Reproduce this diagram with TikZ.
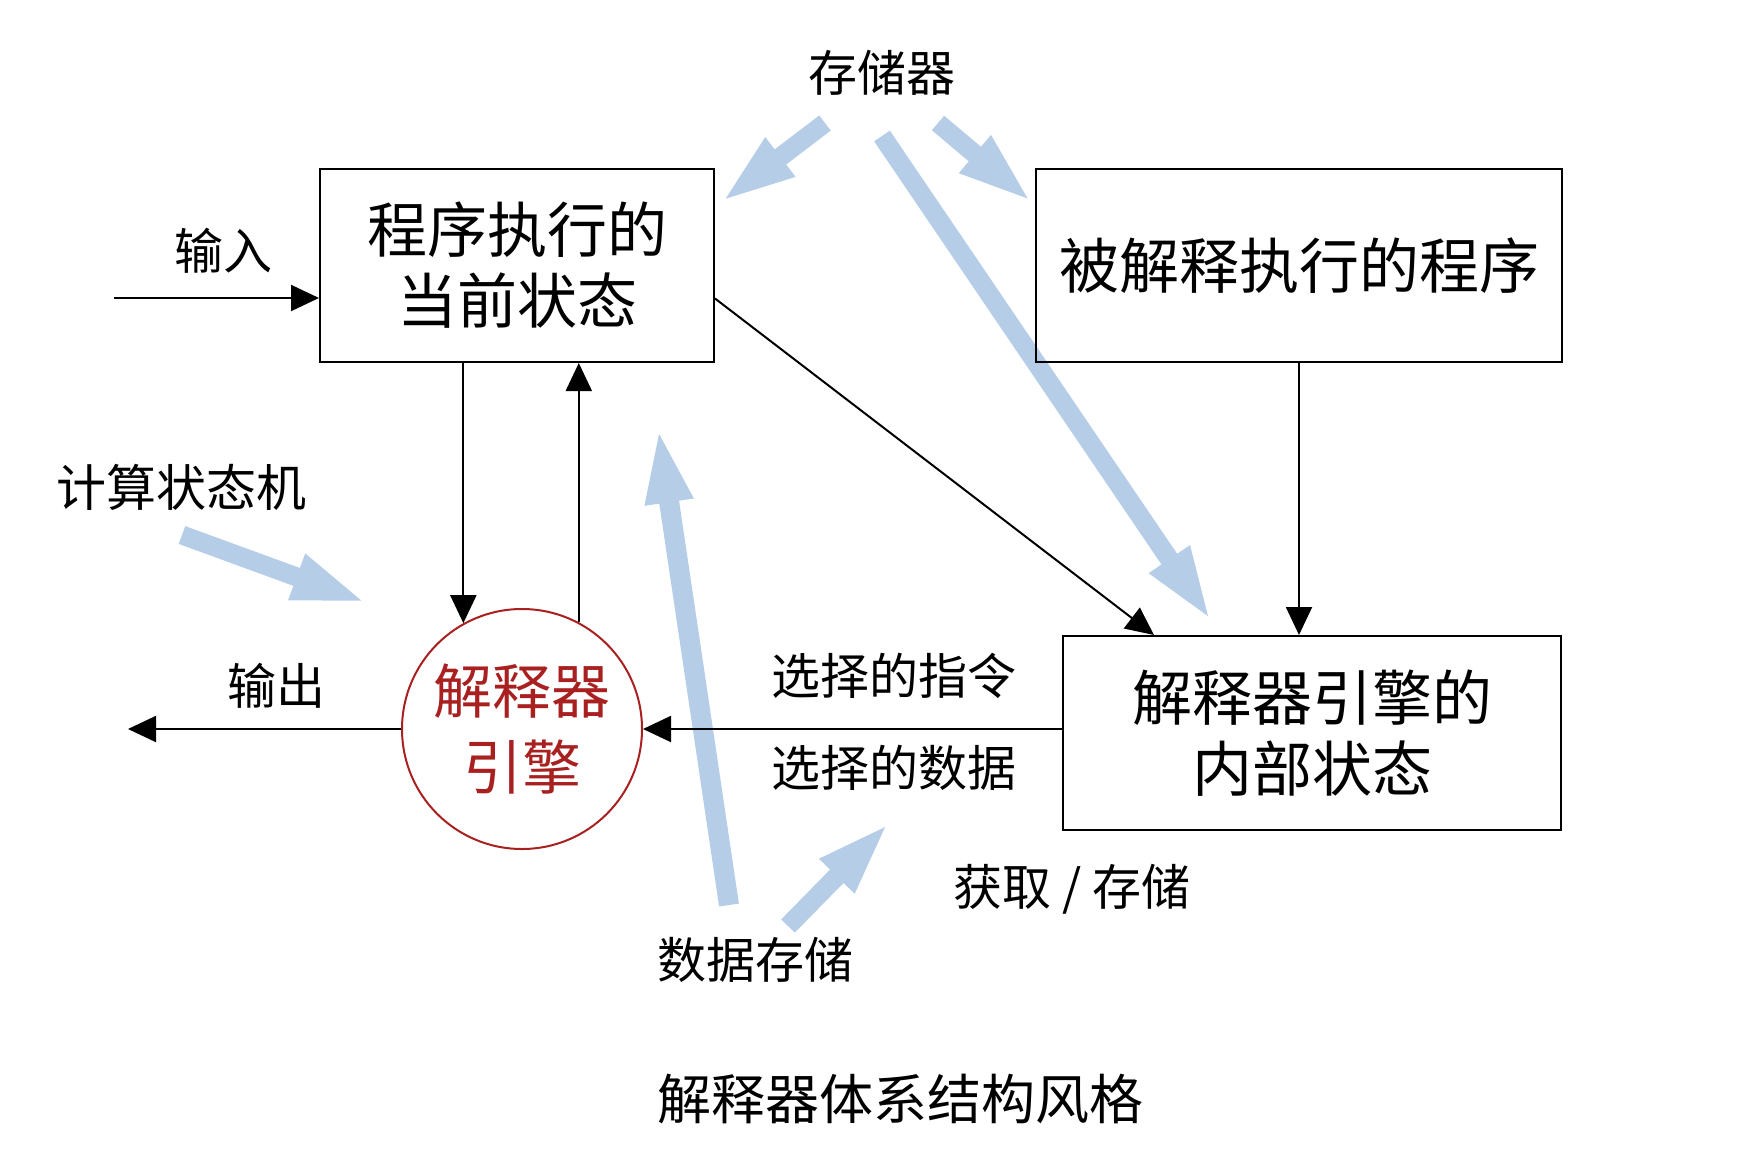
\documentclass[tikz,border=0pt]{standalone}
\usepackage{fontspec}
\setmainfont{Noto Sans CJK SC}
\usetikzlibrary{arrows.meta,calc,backgrounds}
\definecolor{blu}{RGB}{182,205,232}
\definecolor{engred}{RGB}{168,32,32}
\tikzset{
  boxnode/.style={draw=black,line width=1pt,align=center,inner sep=0pt,
    font=\fontsize{30}{35.5}\selectfont},
  lbl/.style={inner sep=0pt,font=\fontsize{24.5}{29}\selectfont},
  arr/.style={line width=1pt,-{Triangle[length=14pt,width=13pt]}},
  fat/.style={draw=blu,line width=9.5pt,-{Triangle[length=38pt,width=21.5pt]}},
}
\begin{document}
\begin{tikzpicture}[x=0.5pt,y=-0.5pt]
\useasboundingbox (0,0) rectangle (1746,1162);
% boxes
\node[boxnode,minimum width=197pt,minimum height=96.5pt] (b1) at (517,265.5) {程序执行的\\当前状态};
\node[boxnode,minimum width=263pt,minimum height=96.5pt] (b2) at (1299,265.5) {被解释执行的程序};
\node[boxnode,minimum width=249pt,minimum height=97pt] (b3) at (1312,733) {解释器引擎的\\内部状态};
\node[circle,draw=engred,line width=1pt,minimum size=120pt,inner sep=0pt,align=center,
  text=engred,font=\fontsize{29.5}{38}\selectfont] (c) at (522,729) {解释器\\引擎};
% labels
\node[lbl] (mem) at (882,73) {存储器};
\node[lbl] (inl) at (223,251) {输入};
\node[lbl,font=\fontsize{25}{29}\selectfont] (csm) at (181,487) {计算状态机};
\node[lbl] (outl) at (276,686) {输出};
\node[lbl] (seli) at (894,676) {选择的指令};
\node[lbl] (seld) at (894,768) {选择的数据};
\node[lbl] (fs) at (1072,889) {获取 / 存储};
\node[lbl] (ds) at (755,960) {数据存储};
\node[lbl,font=\fontsize{27}{32}\selectfont] (title) at (900,1099) {解释器体系结构风格};
% free ends
\coordinate (inS) at (114,298);
\coordinate (outE) at (128,731);
% black connectors
\draw[arr] (inS) -- (inS -| b1.west);
\draw[arr] (c.119.4 |- b1.south) -- (c.119.4);
\draw[arr] (c.62.2) -- (c.62.2 |- b1.south);
\draw[arr] ($(b1.east)+(0,33)$) -- ($(b3.north)+(-158,0)$);
\draw[arr] (b2.south) -- (b2.south |- b3.north);
\draw[arr] (b3.west |- c.east) -- (c.east);
\draw[arr] (c.west) -- (c.west -| outE);
% blue arrows
\coordinate (m1a) at (825,123); \coordinate (m1b) at (720,203);
\coordinate (m2a) at (938,123); \coordinate (m2b) at (1033,203);
\coordinate (m3a) at (882,136); \coordinate (m3b) at (1212,622);
\coordinate (k1a) at (182,535); \coordinate (k1b) at (368,603);
\coordinate (d1a) at (729,905); \coordinate (d1b) at (658,427);
\coordinate (d2a) at (788,926); \coordinate (d2b) at (890,822);
\begin{scope}[on background layer]
\draw[fat] (m1a) -- (m1b);
\draw[fat] (m2a) -- (m2b);
\draw[fat] (m3a) -- (m3b);
\draw[fat] (k1a) -- (k1b);
\draw[fat,line width=10pt] (d1a) -- (d1b);
\draw[fat] (d2a) -- (d2b);
\end{scope}
\end{tikzpicture}
\end{document}
